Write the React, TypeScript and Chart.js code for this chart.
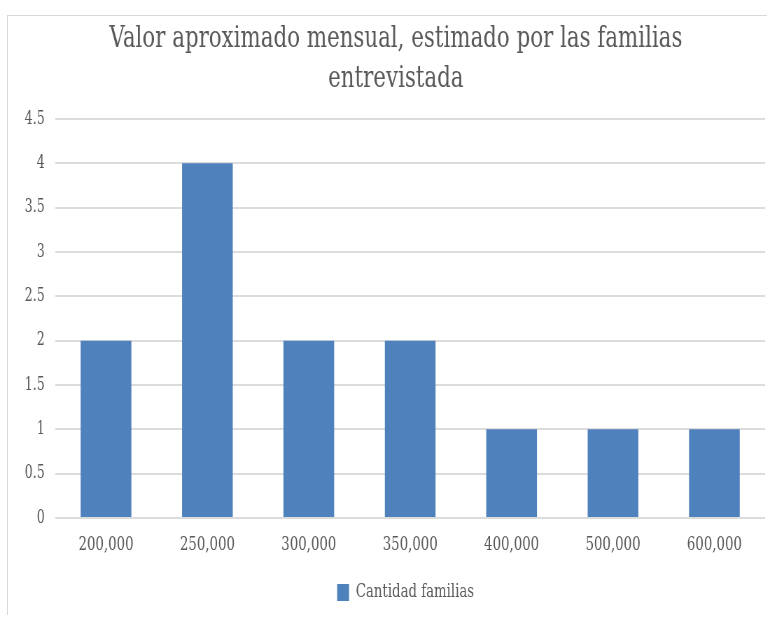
import React, { useEffect, useRef } from "react";
import { Chart, registerables } from "chart.js";

Chart.register(...registerables);

const categories = ["200,000", "250,000", "300,000", "350,000", "400,000", "500,000", "600,000"];
const familias = [2, 4, 2, 2, 1, 1, 1];
const seriesName = "Cantidad familias";
const titleLines = ["Valor aproximado mensual, estimado por las familias", "entrevistada"];
const yMin = 0;
const yMax = 4.5;
const yStep = 0.5;

const K = 0.7; // horizontal squash of the whole picture
const DISP_W = 776;
const H = 600;
const CW = Math.round(DISP_W / K);
const FONT = "'DejaVu Serif', serif";
const TEXT = "#595959";

export default function App() {
  const ref = useRef<HTMLCanvasElement | null>(null);
  useEffect(() => {
    if (!ref.current) return;
    const shiftBoxes = {
      id: "shiftBoxes",
      afterLayout(chart: any) {
        const lg = chart.legend;
        if (lg) {
          lg.left += 28;
          lg.right += 28;
        }
        const tt = chart.titleBlock;
        if (tt) {
          tt.left += 14;
          tt.right += 14;
        }
      },
    };
    const chart = new Chart(ref.current, {
      type: "bar",
      data: {
        labels: categories,
        datasets: [
          {
            label: seriesName,
            data: familias,
            backgroundColor: "#4f81bd",
            borderWidth: 0,
            barPercentage: 0.5,
            categoryPercentage: 1,
          },
        ],
      },
      options: {
        responsive: false,
        animation: false,
        devicePixelRatio: 1,
        layout: { padding: { left: 0, right: 26, top: 0, bottom: 3 } },
        font: { family: FONT },
        plugins: {
          title: {
            display: true,
            text: titleLines,
            color: TEXT,
            font: { family: FONT, size: 30.5, weight: "normal", lineHeight: 1.31 },
            padding: { top: 4, bottom: 20 },
          },
          legend: {
            position: "bottom",
            labels: {
              color: TEXT,
              font: { family: FONT, size: 19 },
              boxWidth: 17,
              boxHeight: 17,
              padding: 10,
            },
          },
          tooltip: { enabled: false },
        },
        scales: {
          x: {
            grid: { display: false, drawTicks: false },
            border: { display: false },
            ticks: { color: TEXT, font: { family: FONT, size: 19 }, padding: 16, maxRotation: 0, autoSkip: false },
            afterFit(scale: any) {
              scale.height = 55;
            },
          },
          y: {
            min: yMin,
            max: yMax,
            grid: { color: "#dcdcdc", lineWidth: 2, drawTicks: false },
            border: { display: false },
            ticks: {
              stepSize: yStep,
              color: TEXT,
              font: { family: FONT, size: 18 },
              padding: 15,
              callback: (v: any) => String(Number(v)),
            },
            afterFit(scale: any) {
              scale.width = 69;
            },
          },
        },
      },
      plugins: [shiftBoxes],
    });
    return () => chart.destroy();
  }, []);

  return (
    <div style={{ position: "absolute", left: 0, top: 0, width: 767, height: 617, overflow: "hidden", background: "#fff" }}>
      <div style={{ position: "absolute", left: 7, top: 15, width: DISP_W, height: H }}>
        <canvas
          ref={ref}
          width={CW}
          height={H}
          style={{ position: "absolute", left: 0, top: 0, width: CW + "px", height: H + "px", transform: `scaleX(${K})`, transformOrigin: "0 0" }}
        />
        <div style={{ position: "absolute", left: 0, top: 0, width: DISP_W, height: H, borderLeft: "1px solid #d9d9d9", borderTop: "1px solid #d9d9d9", boxSizing: "border-box", pointerEvents: "none" }} />
      </div>
    </div>
  );
}
